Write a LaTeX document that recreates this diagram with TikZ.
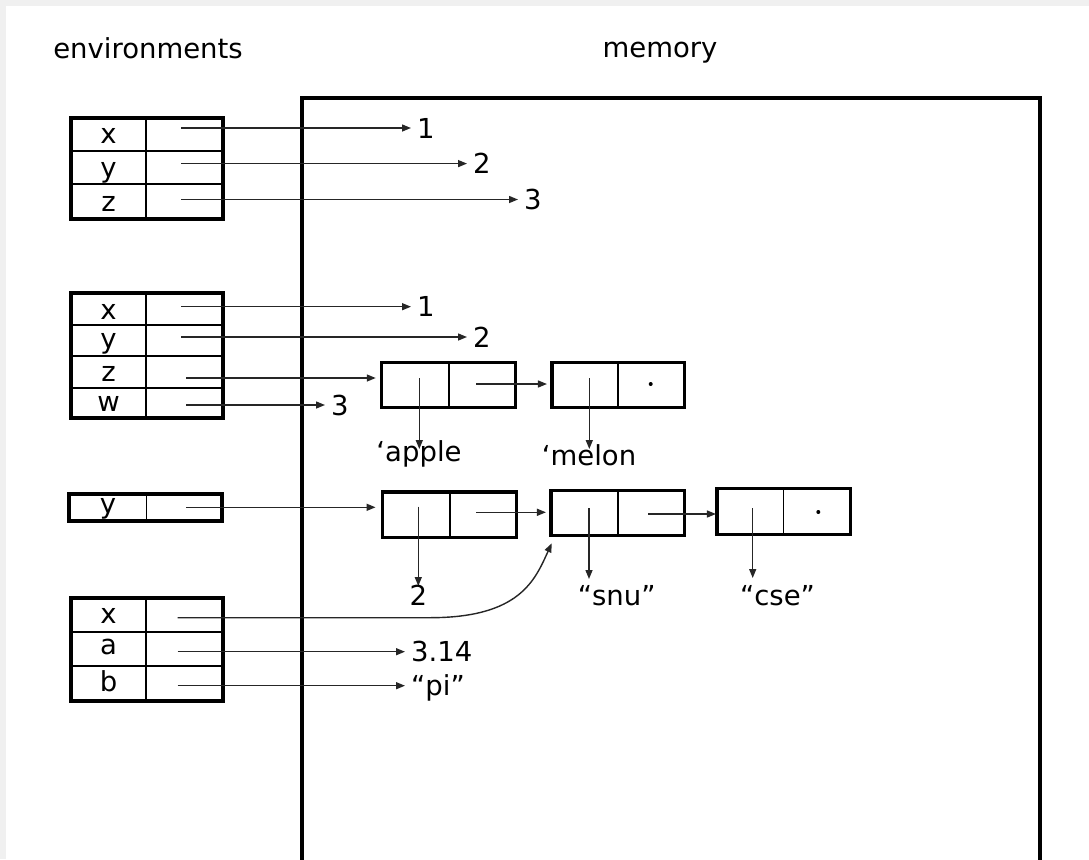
\documentclass[tikz,border=0pt]{standalone}
\usepackage{fontspec}
\setmainfont{DejaVu Sans}
\usetikzlibrary{arrows.meta}
\definecolor{band}{RGB}{240,240,240}
\begin{document}
\begin{tikzpicture}[x=1pt,y=-1pt,font=\fontsize{27.5}{32}\selectfont]
\tikzset{
 outer/.style={line width=3.2pt, line join=miter},
 inner/.style={line width=1.5pt},
 key/.style={anchor=base, inner sep=0pt},
 val/.style={anchor=west, inner xsep=6pt, inner ysep=0pt, text height=20pt, text depth=0pt},
 lbl/.style={anchor=base, inner sep=0pt},
 arr/.style={-{Triangle[length=9pt,width=7pt]}, line width=1.4pt, draw=black!85},
 half/.style={draw, line width=1.5pt, minimum width=66pt, minimum height=44pt, inner sep=0pt},
}
\useasboundingbox (0,0) rectangle (1089,859);
\fill[band] (0,0) rectangle (1089,859);
\fill[white] (6,6) rectangle (1089,859);

% headings
\node[lbl] (henv) at (148,59) {environments};
\node[lbl] (hmem) at (660,57) {memory};

% memory box
\draw[outer] (302,870) -- (302,98) -- (1040,98) -- (1040,870);

% ---------- table 1
\draw[inner] (146,118) -- (146,219) (71,151) -- (223,151) (71,184) -- (223,184);
\draw[outer] (71,118) rectangle (223,219);
\node[key] (k1x) at (108.5,143.3) {x};
\node[key] (k1y) at (108.5,177) {y};
\node[key] (k1z) at (108.5,211.7) {z};
\coordinate (s1x) at (181,128);
\coordinate (s1y) at (181,163.6);
\coordinate (s1z) at (181,199.5);
\node[val] (v1x) at (411,128) {1};
\node[val] (v1y) at (467,163.6) {2};
\node[val] (v1z) at (518,199.5) {3};
\draw[arr] (s1x) -- (s1x -| v1x.west);
\draw[arr] (s1y) -- (s1y -| v1y.west);
\draw[arr] (s1z) -- (s1z -| v1z.west);

% ---------- table 2
\draw[inner] (146,293) -- (146,418) (71,325) -- (223,325) (71,356) -- (223,356) (71,388) -- (223,388);
\draw[outer] (71,293) rectangle (223,418);
\node[key] (k2x) at (108.5,319.3) {x};
\node[key] (k2y) at (108.5,348.5) {y};
\node[key] (k2z) at (108.5,381.7) {z};
\node[key] (k2w) at (108.5,411.7) {w};
\coordinate (s2x) at (181,306.7);
\coordinate (s2y) at (181,337);
\coordinate (s2z) at (186,378);
\coordinate (s2w) at (186,405);
\node[val] (v2x) at (411,306.7) {1};
\node[val] (v2y) at (467,337) {2};
\node[val] (v2w) at (325,405) {3};
\draw[arr] (s2x) -- (s2x -| v2x.west);
\draw[arr] (s2y) -- (s2y -| v2y.west);
\draw[arr] (s2w) -- (s2w -| v2w.west);

% cons cells row 1
\node[half] (c1a) at (415.5,385) {};
\node[half] (c1b) at (482,385) {};
\draw[outer] (c1a.south west) rectangle (c1b.north east);
\node[half] (c2a) at (585.7,385) {};
\node[half] (c2b) at (651,385) {};
\draw[outer] (c2a.south west) rectangle (c2b.north east);
\fill (650.7,384) circle (2pt);
\draw[arr, shorten >=6pt] (s2z) -- (s2z -| c1a.west);
\coordinate (s1car) at (419.3,378);
\coordinate (s1cdr) at (476,384);
\coordinate (s2car) at (589.3,378);
\coordinate (e1car) at (419.3,449);
\coordinate (e2car) at (589.3,449);
\draw[arr] (s1car) -- (e1car);
\draw[arr] (s2car) -- (e2car);
\draw[arr, shorten >=5pt] (s1cdr) -- (s1cdr -| c2a.west);
\node[lbl] (apple) at (419,461) {‘apple};
\node[lbl] (melon) at (589,465) {‘melon};

% ---------- table 3
\draw[inner] (146.5,494) -- (146.5,521);
\draw[outer] (69,494) rectangle (222,521);
\node[key] (k3y) at (108,513) {y};
\coordinate (s3y) at (186,507.3);

% cons cells row 2
\node[half] (c3a) at (416.3,514.7) {};
\node[half] (c3b) at (483,514.7) {};
\draw[outer] (c3a.south west) rectangle (c3b.north east);
\node[half] (c4a) at (584.7,513) {};
\node[half] (c4b) at (651,513) {};
\draw[outer] (c4a.south west) rectangle (c4b.north east);
\node[half] (c5a) at (750.7,511.5) {};
\node[half] (c5b) at (816.7,511.5) {};
\draw[outer] (c5a.south west) rectangle (c5b.north east);
\fill (818.3,512) circle (2pt);

\draw[arr, shorten >=7pt] (s3y) -- (s3y -| c3a.west);
\coordinate (s3car) at (418.3,506.7);
\coordinate (s3cdr) at (476,512.3);
\coordinate (s4car) at (589,508);
\coordinate (s4cdr) at (648.3,514);
\coordinate (s5car) at (752.7,508);
\coordinate (e3car) at (418.3,586);
\coordinate (e4car) at (589,579);
\coordinate (e5car) at (752.7,578);
\draw[arr] (s3car) -- (e3car);
\draw[arr] (s4car) -- (e4car);
\draw[arr] (s5car) -- (e5car);
\draw[arr, shorten >=5pt] (s3cdr) -- (s3cdr -| c4a.west);
\draw[arr, shorten >=1pt] (s4cdr) -- (s4cdr -| c5a.west);
\node[lbl] (two) at (418.3,605) {2};
\node[lbl] (snu) at (616.7,605) {“snu”};
\node[lbl] (cse) at (777.5,605) {“cse”};

% ---------- table 4
\draw[inner] (146,598) -- (146,701) (71,632) -- (223,632) (71,666) -- (223,666);
\draw[outer] (71,598) rectangle (223,701);
\node[key] (k4x) at (108.5,623.3) {x};
\node[key] (k4a) at (108.5,654) {a};
\node[key] (k4b) at (108.5,691.7) {b};
\coordinate (s4x) at (177.7,617.7);
\coordinate (s4a) at (177.7,651.7);
\coordinate (s4b) at (177.7,685.7);
\coordinate (e4x) at (551.7,543.3);
\draw[arr] (s4x) -- (430,617.7) .. controls (520,617.7) and (535,580) .. (e4x);
\node[val] (v4a) at (405,651.7) {3.14};
\node[val] (v4b) at (405,685.7) {“pi”};
\draw[arr] (s4a) -- (s4a -| v4a.west);
\draw[arr] (s4b) -- (s4b -| v4b.west);
\end{tikzpicture}
\end{document}
